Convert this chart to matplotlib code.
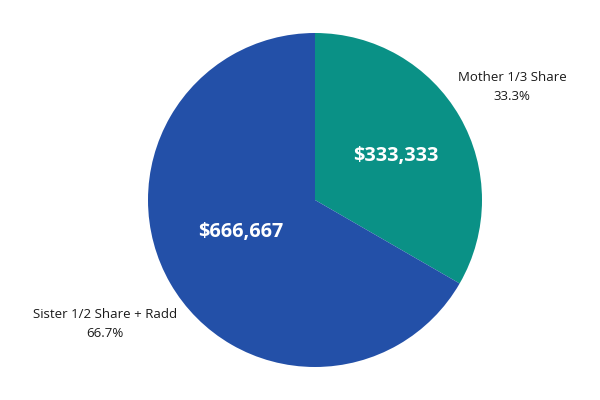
import matplotlib.pyplot as plt

labels = ["Mother 1/3 Share", "Sister 1/2 Share + Radd"]
values = [333333, 666667]
pct_labels = ["33.3%", "66.7%"]
amounts = ["$333,333", "$666,667"]
colors = ["#0A9186", "#2350A8"]

plt.rcParams['font.family'] = ['Open Sans', 'DejaVu Sans']

fig = plt.figure(figsize=(6, 4), dpi=100)
ax = fig.add_axes([0, 0, 1, 1])

wedges, _ = ax.pie(values, colors=colors, startangle=90, counterclock=False,
                   center=(315, 200), radius=167,
                   wedgeprops=dict(linewidth=0))
ax.set_xlim(0, 600)
ax.set_ylim(0, 400)
ax.set_aspect('equal')
ax.axis('off')

# value labels inside the slices
ax.text(396, 400 - 156, amounts[0], ha='center', va='center', color='white',
        fontsize=14.3, fontweight='bold')
ax.text(241, 400 - 232, amounts[1], ha='center', va='center', color='white',
        fontsize=14.3, fontweight='bold')

# outside labels
ax.text(512, 400 - 87, f"{labels[0]}\n{pct_labels[0]}", ha='center', va='center',
        fontsize=9.5, color='#1a1a1a', linespacing=1.55)
ax.text(105, 400 - 324, f"{labels[1]}\n{pct_labels[1]}", ha='center', va='center',
        fontsize=9.5, color='#1a1a1a', linespacing=1.55)

fig.savefig("out.png", dpi=100)
